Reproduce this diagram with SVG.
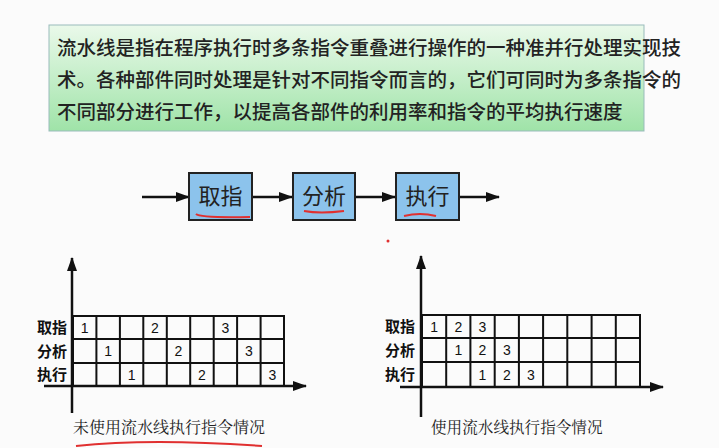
<svg xmlns="http://www.w3.org/2000/svg" width="719" height="448" viewBox="0 0 719 448">
<style>
.t{font-family:"Noto Sans CJK SC","Liberation Sans",sans-serif;fill:#222}
.g{fill:none;stroke:#111;stroke-width:2}
.ax{stroke:#111;stroke-width:2.5;fill:none}
.n{font-family:"Liberation Sans",sans-serif;font-size:14px;text-anchor:middle;fill:#111}
.lb{font-family:"Noto Sans CJK SC",sans-serif;font-size:15px;font-weight:bold;text-anchor:middle;fill:#111}
.box{fill:#8cc3ec;stroke:#222;stroke-width:2}
.red{fill:none;stroke:#e03030;stroke-width:2}
</style>
<defs>
<linearGradient id="gr" x1="0" y1="0" x2="0" y2="1"><stop offset="0" stop-color="#eaf9ea"/><stop offset="1" stop-color="#9fe3a8"/></linearGradient>
<marker id="ah2" markerWidth="14" markerHeight="10" refX="13" refY="5" orient="auto" markerUnits="userSpaceOnUse"><path d="M0,0 L14,5 L0,10 z" fill="#111"/></marker>
</defs>
<rect width="719" height="448" fill="#fbfbfb"/>
<g id="desc">
<rect x="49" y="25" width="595" height="106" fill="url(#gr)" stroke="#9bb" stroke-width="1"/>
<text class="t" font-size="19.5" font-weight="500" x="57" y="55">流水线是指在程序执行时多条指令重叠进行操作的一种准并行处理实现技</text>
<text class="t" font-size="19.5" font-weight="500" x="57" y="87">术。各种部件同时处理是针对不同指令而言的，它们可同时为多条指令的</text>
<text class="t" font-size="19.5" font-weight="500" x="57" y="119">不同部分进行工作，以提高各部件的利用率和指令的平均执行速度</text>
</g>
<g id="connectors">
<line x1="142" y1="197" x2="189" y2="197" class="ax" marker-end="url(#ah2)"/>
<line x1="252" y1="197" x2="292" y2="197" class="ax" marker-end="url(#ah2)"/>
<line x1="355" y1="197" x2="395" y2="197" class="ax" marker-end="url(#ah2)"/>
<line x1="459" y1="197" x2="499" y2="197" class="ax" marker-end="url(#ah2)"/>
</g>
<g id="n1"><rect class="box" x="189" y="173" width="63" height="47"/><text class="t" font-size="22" x="220.5" y="204" text-anchor="middle">取指</text></g>
<g id="n2"><rect class="box" x="293" y="173" width="62" height="47"/><text class="t" font-size="22" x="324" y="204" text-anchor="middle">分析</text></g>
<g id="n3"><rect class="box" x="396" y="173" width="63" height="47"/><text class="t" font-size="22" x="427.5" y="204" text-anchor="middle">执行</text></g>
<g id="annot">
<path class="red" d="M196,214 Q200,218 250,217"/>
<path class="red" d="M304,211 Q320,214 344,211"/>
<path class="red" d="M404,216 Q420,212 436,216"/>
<circle cx="388" cy="241" r="1.5" fill="#e03030"/>
<path class="red" d="M76,446 Q150,438 262,446"/>
</g>
<g id="chart1">
<line class="ax" x1="72" y1="413" x2="72" y2="258" marker-end="url(#ah2)"/>
<line class="ax" x1="44" y1="386" x2="306" y2="386" marker-end="url(#ah2)"/>
<g class="g">
<rect x="73" y="316" width="211" height="70"/>
<line x1="73" y1="339" x2="284" y2="339"/><line x1="73" y1="363" x2="284" y2="363"/>
<path d="M96.4,316V386M119.9,316V386M143.3,316V386M166.8,316V386M190.2,316V386M213.7,316V386M237.1,316V386M260.6,316V386"/>
</g>
<text class="lb" x="52" y="333">取指</text><text class="lb" x="52" y="357">分析</text><text class="lb" x="52" y="380">执行</text>
<text class="n" x="84.7" y="333">1</text><text class="n" x="155" y="333">2</text><text class="n" x="225.4" y="333">3</text>
<text class="n" x="108.1" y="356">1</text><text class="n" x="178.5" y="356">2</text><text class="n" x="248.8" y="356">3</text>
<text class="n" x="131.6" y="380">1</text><text class="n" x="201.9" y="380">2</text><text class="n" x="272.3" y="380">3</text>
<text class="t" font-size="16" x="73" y="433" style="font-family:'Noto Serif CJK SC','Noto Sans CJK SC',serif">未使用流水线执行指令情况</text>
</g>
<g id="chart2">
<line class="ax" x1="421" y1="417" x2="421" y2="256" marker-end="url(#ah2)"/>
<line class="ax" x1="400" y1="387" x2="663" y2="387" marker-end="url(#ah2)"/>
<g class="g">
<rect x="422" y="315" width="218" height="72"/>
<line x1="422" y1="338" x2="640" y2="338"/><line x1="422" y1="362" x2="640" y2="362"/>
<path d="M446.2,315V387M470.4,315V387M494.7,315V387M518.9,315V387M543.1,315V387M567.3,315V387M591.6,315V387M615.8,315V387"/>
</g>
<text class="lb" x="400" y="332">取指</text><text class="lb" x="400" y="356">分析</text><text class="lb" x="400" y="380">执行</text>
<text class="n" x="434.1" y="332">1</text><text class="n" x="458.3" y="332">2</text><text class="n" x="482.5" y="332">3</text>
<text class="n" x="458.3" y="355">1</text><text class="n" x="482.5" y="355">2</text><text class="n" x="506.8" y="355">3</text>
<text class="n" x="482.5" y="380">1</text><text class="n" x="506.8" y="380">2</text><text class="n" x="531" y="380">3</text>
<text class="t" font-size="15.6" x="431" y="433" style="font-family:'Noto Serif CJK SC','Noto Sans CJK SC',serif">使用流水线执行指令情况</text>
</g>
</svg>
